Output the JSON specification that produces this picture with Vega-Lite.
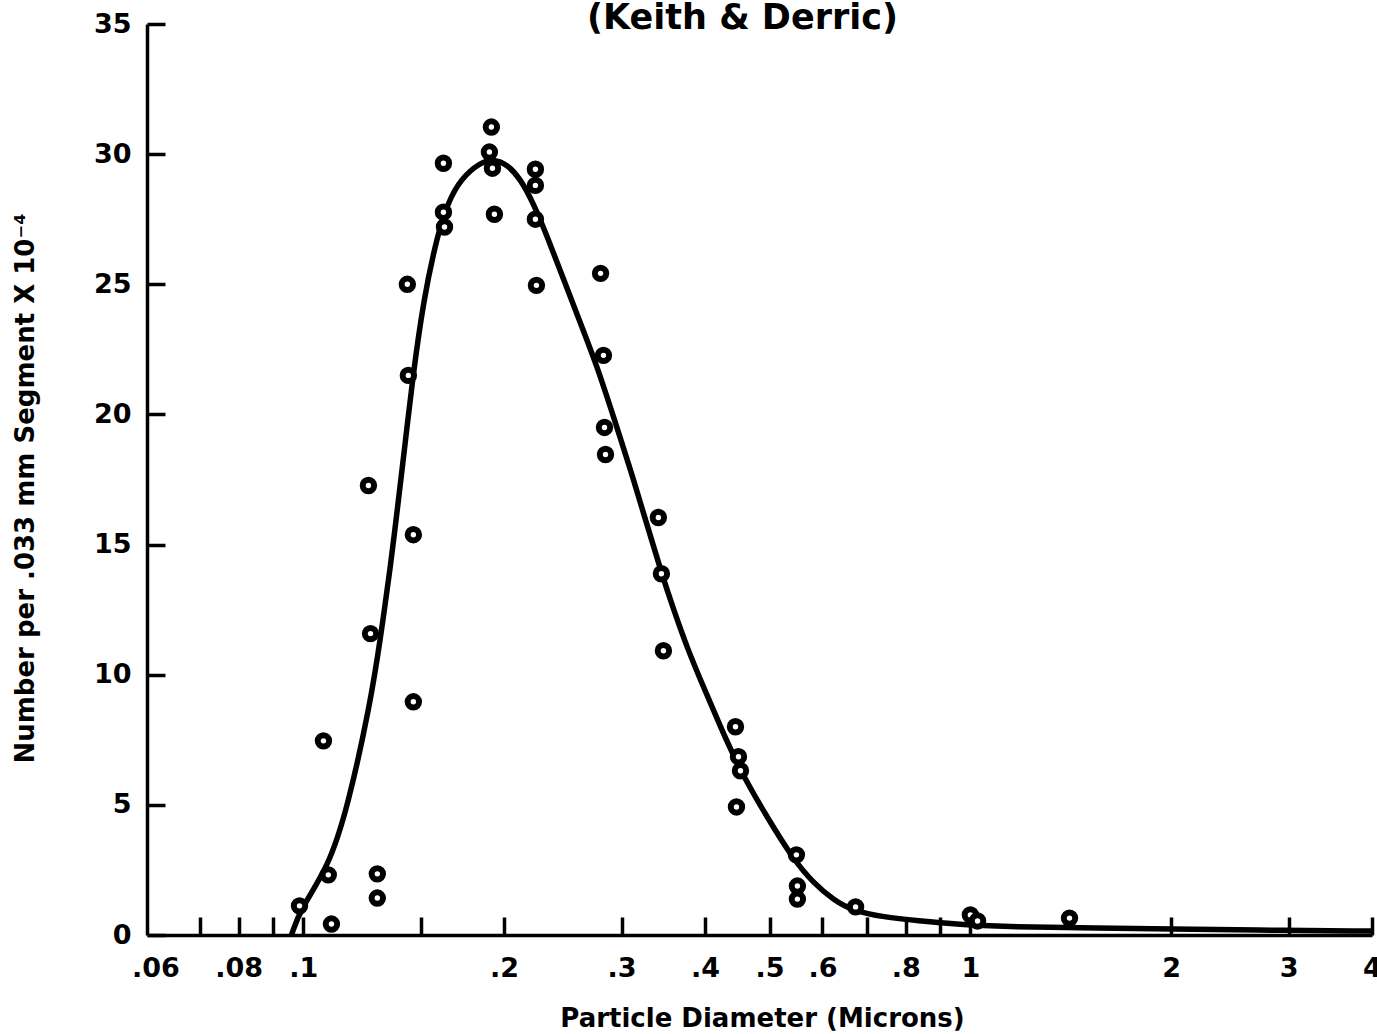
{
  "$schema": "https://vega.github.io/schema/vega-lite/v6.json",
  "width": 1225,
  "height": 911,
  "autosize": "none",
  "padding": {"left": 147, "top": 24, "right": 5, "bottom": 99},
  "background": "white",
  "config": {
    "view": {"stroke": null},
    "font": "DejaVu Sans",
    "axis": {
      "grid": false,
      "domainColor": "black",
      "domainWidth": 3.5,
      "tickColor": "black",
      "tickWidth": 3.5,
      "labelColor": "black",
      "labelFont": "DejaVu Sans",
      "labelFontWeight": "bold",
      "labelFontSize": 27,
      "titleColor": "black",
      "titleFont": "DejaVu Sans",
      "titleFontWeight": "bold"
    }
  },
  "title": {
    "text": "(Keith & Derric)",
    "font": "DejaVu Sans",
    "fontSize": 35,
    "fontWeight": "bold",
    "color": "black",
    "anchor": "middle",
    "baseline": "alphabetic",
    "offset": 0,
    "dx": -17,
    "dy": 54
  },
  "datasets": {
    "obs": [
      {"d": 0.0987, "n": 1.12}, {"d": 0.1072, "n": 7.46}, {"d": 0.109, "n": 2.31}, {"d": 0.1102, "n": 0.42},
      {"d": 0.1252, "n": 17.27}, {"d": 0.1261, "n": 11.58}, {"d": 0.1291, "n": 2.35}, {"d": 0.1291, "n": 1.42},
      {"d": 0.1432, "n": 25.0}, {"d": 0.1437, "n": 21.5}, {"d": 0.1462, "n": 15.38}, {"d": 0.1462, "n": 8.96},
      {"d": 0.1622, "n": 29.65}, {"d": 0.1622, "n": 27.77}, {"d": 0.1628, "n": 27.2},
      {"d": 0.1914, "n": 31.04}, {"d": 0.1901, "n": 30.08}, {"d": 0.1921, "n": 29.46}, {"d": 0.1934, "n": 27.69},
      {"d": 0.2228, "n": 29.42}, {"d": 0.2228, "n": 28.8}, {"d": 0.2228, "n": 27.5}, {"d": 0.2236, "n": 24.96},
      {"d": 0.279, "n": 25.42}, {"d": 0.2818, "n": 22.27}, {"d": 0.2828, "n": 19.5}, {"d": 0.2838, "n": 18.46},
      {"d": 0.3406, "n": 16.04}, {"d": 0.3442, "n": 13.88}, {"d": 0.3466, "n": 10.92},
      {"d": 0.4445, "n": 8.0}, {"d": 0.4491, "n": 6.85}, {"d": 0.4522, "n": 6.31}, {"d": 0.446, "n": 4.92},
      {"d": 0.5485, "n": 3.08}, {"d": 0.5504, "n": 1.88}, {"d": 0.5504, "n": 1.38},
      {"d": 0.6728, "n": 1.08}, {"d": 1.0, "n": 0.77}, {"d": 1.025, "n": 0.54}, {"d": 1.408, "n": 0.65}
    ],
    "fit": [
      {"d": 0.096, "n": 0}, {"d": 0.099, "n": 1.0}, {"d": 0.109, "n": 2.6}, {"d": 0.1165, "n": 4.88},
      {"d": 0.1261, "n": 8.92}, {"d": 0.1305, "n": 11.4}, {"d": 0.1351, "n": 14.15}, {"d": 0.1384, "n": 16.4},
      {"d": 0.1423, "n": 19.0}, {"d": 0.1457, "n": 21.3}, {"d": 0.1514, "n": 24.42}, {"d": 0.1589, "n": 26.9},
      {"d": 0.1645, "n": 28.1}, {"d": 0.172, "n": 29.04}, {"d": 0.1843, "n": 29.69}, {"d": 0.1928, "n": 29.81},
      {"d": 0.2023, "n": 29.6}, {"d": 0.2116, "n": 29.05}, {"d": 0.2214, "n": 28.1}, {"d": 0.2324, "n": 26.8},
      {"d": 0.2455, "n": 25.2}, {"d": 0.2603, "n": 23.5}, {"d": 0.2761, "n": 21.8}, {"d": 0.2918, "n": 19.9},
      {"d": 0.3127, "n": 17.5}, {"d": 0.3281, "n": 15.69}, {"d": 0.3431, "n": 14.04}, {"d": 0.3589, "n": 12.5},
      {"d": 0.3767, "n": 11.0}, {"d": 0.3939, "n": 9.8}, {"d": 0.422, "n": 8.0}, {"d": 0.452, "n": 6.3},
      {"d": 0.4964, "n": 4.5}, {"d": 0.543, "n": 2.9}, {"d": 0.5817, "n": 2.0}, {"d": 0.6233, "n": 1.35},
      {"d": 0.668, "n": 0.92}, {"d": 0.741, "n": 0.69}, {"d": 0.833, "n": 0.55}, {"d": 0.9664, "n": 0.4},
      {"d": 1.11, "n": 0.32}, {"d": 1.567, "n": 0.27}, {"d": 1.995, "n": 0.23}, {"d": 2.63, "n": 0.19},
      {"d": 4.0, "n": 0.15}
    ]
  },
  "encoding": {
    "x": {
      "field": "d",
      "type": "quantitative",
      "scale": {"type": "log", "domain": [0.0583, 4], "nice": false},
      "axis": {
        "title": "Particle Diameter (Microns)",
        "titleFontSize": 26,
        "titleX": 615,
        "titleY": 83,
        "titleBaseline": "middle",
        "titleAlign": "center",
        "values": [0.06, 0.07, 0.08, 0.09, 0.1, 0.15, 0.2, 0.3, 0.4, 0.5, 0.6, 0.7, 0.8, 0.9, 1, 2, 3, 4],
        "labelExpr": "indexof([0.07, 0.09, 0.15, 0.7, 0.9], datum.value) >= 0 ? '' : (datum.value < 1 ? replace(format(datum.value, '.2~f'), '0.', '.') : format(datum.value, 'd'))",
        "labelOverlap": false,
        "labelFlush": false,
        "labelPadding": 38,
        "tickSize": -18,
        "tickOpacity": {"condition": {"test": "datum.value < 0.065", "value": 0}, "value": 1}
      }
    },
    "y": {
      "field": "n",
      "type": "quantitative",
      "scale": {"domain": [0, 35], "nice": false},
      "axis": {
        "title": "Number per .033 mm Segment X 10⁻⁴",
        "titleFontSize": 26,
        "titleX": -122,
        "titleY": 464,
        "titleAngle": -90,
        "titleAlign": "center",
        "titleBaseline": "middle",
        "values": [0, 5, 10, 15, 20, 25, 30, 35],
        "labelPadding": 34,
        "tickSize": -18
      }
    }
  },
  "layer": [
    {
      "data": {"name": "fit"},
      "mark": {"type": "line", "color": "black", "strokeWidth": 5.5, "interpolate": "basis"}
    },
    {
      "data": {"name": "obs"},
      "mark": {"type": "point", "shape": "circle", "filled": true, "fill": "white", "stroke": "black", "strokeWidth": 6, "size": 130, "opacity": 1}
    }
  ]
}
